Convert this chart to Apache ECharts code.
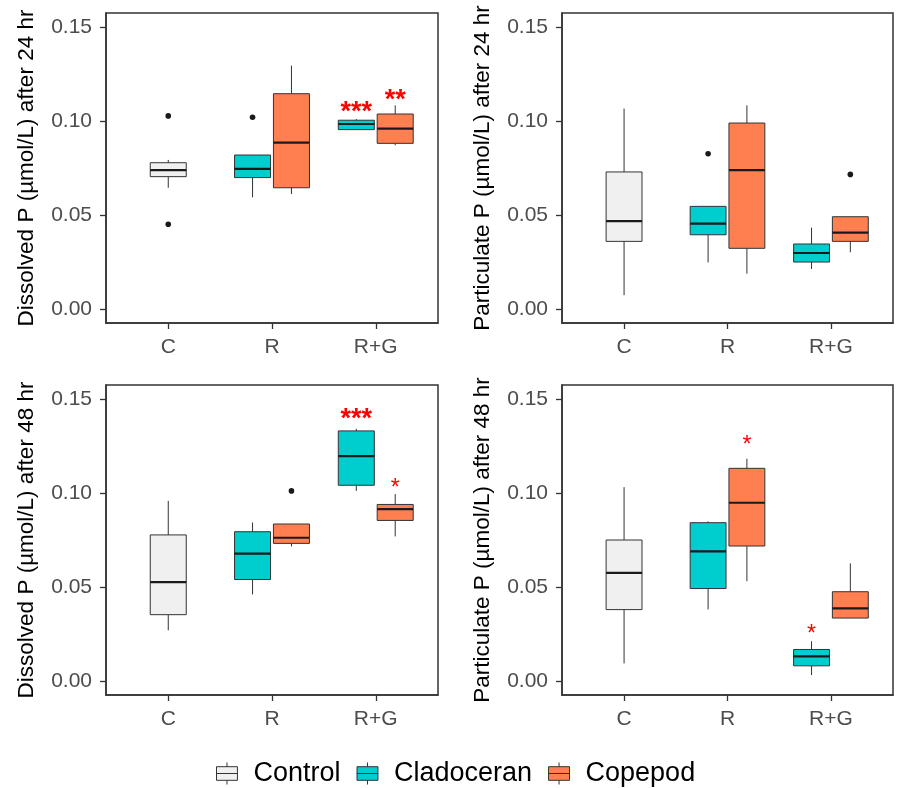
<!DOCTYPE html>
<html><head><meta charset="utf-8">
<script src="https://cdn.jsdelivr.net/npm/echarts@6/dist/echarts.min.js"></script>
<style>html,body{margin:0;padding:0;background:#fff}#c{width:897px;height:788px}</style>
</head><body><div id="c"></div><script>
const categories = ['C', 'R', 'R+G'];
const groups = ['Control', 'Cladoceran', 'Copepod'];
const yTicks = [0, 0.05, 0.10, 0.15];
const panelTitles = [
  'Dissolved P (µmol/L) after 24 hr',
  'Particulate P (µmol/L) after 24 hr',
  'Dissolved P (µmol/L) after 48 hr',
  'Particulate P (µmol/L) after 48 hr'
];

// boxes: [category, lower whisker, Q1, median, Q3, upper whisker]
// outliers: [category, value]; significance: [category, label value, text]
const d24Control = [['C', 0.0645, 0.0704, 0.0739, 0.0778, 0.0793]];
const d24Clado = [['R', 0.0594, 0.0699, 0.0745, 0.0819, 0.0819], ['R+G', 0.0954, 0.0954, 0.0984, 0.1004, 0.1010]];
const d24Cope = [['R', 0.0612, 0.0645, 0.0885, 0.1145, 0.1294], ['R+G', 0.0871, 0.0881, 0.0959, 0.1037, 0.1083]];
const d24ControlOut = [['C', 0.1027], ['C', 0.0451]];
const d24CladoOut = [['R', 0.1020]];
const d24CopeOut = [];
const d24CladoSig = [['R+G', 0.1076, '***']];
const d24CopeSig = [['R+G', 0.1138, '**']];

const p24Control = [['C', 0.0074, 0.0360, 0.0468, 0.0729, 0.1066]];
const p24Clado = [['R', 0.0248, 0.0395, 0.0454, 0.0546, 0.0546], ['R+G', 0.0213, 0.0250, 0.0298, 0.0346, 0.0433]];
const p24Cope = [['R', 0.0188, 0.0323, 0.0739, 0.0989, 0.1083], ['R+G', 0.0302, 0.0360, 0.0406, 0.0491, 0.0491]];
const p24ControlOut = [];
const p24CladoOut = [['R', 0.0826]];
const p24CopeOut = [['R+G', 0.0716]];

const d48Control = [['C', 0.0270, 0.0353, 0.0526, 0.0777, 0.0958]];
const d48Clado = [['R', 0.0461, 0.0540, 0.0678, 0.0794, 0.0843], ['R+G', 0.1011, 0.1041, 0.1196, 0.1330, 0.1341]];
const d48Cope = [['R', 0.0716, 0.0732, 0.0762, 0.0835, 0.0835], ['R+G', 0.0769, 0.0854, 0.0914, 0.0939, 0.0994]];
const d48ControlOut = [];
const d48CladoOut = [];
const d48CopeOut = [['R', 0.1011]];
const d48CladoSig = [['R+G', 0.1417, '***']];
const d48CopeSig = [['R+G', 0.1047, '*']];

const p48Control = [['C', 0.0094, 0.0380, 0.0575, 0.0750, 0.1031]];
const p48Clado = [['R', 0.0381, 0.0492, 0.0690, 0.0842, 0.0849], ['R+G', 0.0032, 0.0081, 0.0131, 0.0168, 0.0212]];
const p48Cope = [['R', 0.0531, 0.0718, 0.0948, 0.1131, 0.1182], ['R+G', 0.0335, 0.0335, 0.0386, 0.0475, 0.0626]];
const p48CladoSig = [['R+G', 0.0270, '*']];
const p48CopeSig = [['R', 0.1276, '*']];

const panels = [
  {boxes: [d24Control, d24Clado, d24Cope], outliers: [d24ControlOut, d24CladoOut, d24CopeOut], sig: [[], d24CladoSig, d24CopeSig]},
  {boxes: [p24Control, p24Clado, p24Cope], outliers: [p24ControlOut, p24CladoOut, p24CopeOut], sig: [[], [], []]},
  {boxes: [d48Control, d48Clado, d48Cope], outliers: [d48ControlOut, d48CladoOut, d48CopeOut], sig: [[], d48CladoSig, d48CopeSig]},
  {boxes: [p48Control, p48Clado, p48Cope], outliers: [[], [], []], sig: [[], p48CladoSig, p48CopeSig]}
];

// styling / layout
const fills = ['#F0F0F0', '#00CDCD', '#FF7F50'];
const dodge = [0, -0.1875, 0.1875];
const halfW = 0.1735;
const gridLefts = [106, 562, 106, 562];
const gridTops = [13, 13, 385, 385];
const gridWidths = [332, 331, 332, 331];
const FONT = 'Liberation Sans, Arial, sans-serif';

const grids = [], xAxes = [], yAxes = [], series = [];
panels.forEach((p, pi) => {
  grids.push({left: gridLefts[pi], top: gridTops[pi], width: gridWidths[pi], height: 310,
    show: true, borderColor: '#333', borderWidth: 1.5, backgroundColor: 'transparent'});
  xAxes.push({type: 'value', gridIndex: pi, min: 0.4, max: 3.6,
    axisLine: {show: true, onZero: false, lineStyle: {color: '#333', width: 1.5}},
    axisTick: {show: true, length: 6, customValues: [1, 2, 3], lineStyle: {color: '#333', width: 1.3}},
    axisLabel: {customValues: [1, 2, 3], formatter: v => categories[Math.round(v) - 1], color: '#4d4d4d', fontSize: 21, margin: 14, fontFamily: FONT},
    splitLine: {show: false}});
  yAxes.push({type: 'value', gridIndex: pi, min: -0.0074, max: 0.1574,
    name: panelTitles[pi], nameLocation: 'middle', nameGap: 68,
    nameTextStyle: {color: '#000', fontSize: 22.5, fontFamily: FONT},
    axisLine: {show: true, onZero: false, lineStyle: {color: '#333', width: 1.5}},
    axisTick: {show: true, length: 6, customValues: yTicks, lineStyle: {color: '#333', width: 1.3}},
    axisLabel: {customValues: yTicks, formatter: v => v.toFixed(2), color: '#4d4d4d', fontSize: 21, margin: 14, fontFamily: FONT},
    splitLine: {show: false}});
  groups.forEach((g, gi) => {
    const outs = p.outliers[gi];
    const sigs = p.sig[gi];
    series.push({
      type: 'custom', name: g, xAxisIndex: pi, yAxisIndex: pi,
      itemStyle: {color: fills[gi], borderColor: '#333', borderWidth: 1},
      encode: {x: 0, y: [1, 2, 3, 4, 5]},
      data: p.boxes[gi].map(b => [categories.indexOf(b[0]) + 1, b[1], b[2], b[3], b[4], b[5]]),
      renderItem: function (params, api) {
        const xi = api.value(0);
        const xc = xi + dodge[gi];
        const low = api.value(1), q1 = api.value(2), med = api.value(3), q3 = api.value(4), high = api.value(5);
        const tl = api.coord([xc - halfW, q3]);
        const br = api.coord([xc + halfW, q1]);
        const cHigh = api.coord([xc, high]), cQ3 = api.coord([xc, q3]);
        const cQ1 = api.coord([xc, q1]), cLow = api.coord([xc, low]);
        const cMedL = api.coord([xc - halfW, med]), cMedR = api.coord([xc + halfW, med]);
        const lineStyle = {stroke: '#333', lineWidth: 1};
        const children = [
          {type: 'line', shape: {x1: cHigh[0], y1: cHigh[1], x2: cQ3[0], y2: cQ3[1]}, style: lineStyle},
          {type: 'line', shape: {x1: cQ1[0], y1: cQ1[1], x2: cLow[0], y2: cLow[1]}, style: lineStyle},
          {type: 'rect', shape: {x: tl[0], y: tl[1], width: br[0] - tl[0], height: br[1] - tl[1]},
            style: {fill: api.visual('color'), stroke: '#333', lineWidth: 1}},
          {type: 'line', shape: {x1: cMedL[0], y1: cMedL[1], x2: cMedR[0], y2: cMedR[1]},
            style: {stroke: '#1a1a1a', lineWidth: 2.2}}
        ];
        const catName = categories[xi - 1];
        outs.filter(o => o[0] === catName).forEach(o => {
          const c = api.coord([xc, o[1]]);
          children.push({type: 'circle', shape: {cx: c[0], cy: c[1], r: 2.8}, style: {fill: '#1a1a1a'}});
        });
        sigs.filter(s => s[0] === catName).forEach(s => {
          const c = api.coord([xc, s[1]]);
          const fs = s[2].length > 1 ? 27 : 23;
          children.push({type: 'text', x: c[0], y: c[1] + 0.2 * fs,
            style: {text: s[2], fill: '#FF0000', fontSize: fs, fontWeight: s[2].length > 1 ? 'bold' : 'normal',
              fontFamily: FONT, align: 'center', verticalAlign: 'middle'}});
        });
        return {type: 'group', children: children};
      }
    });
  });
});

const chart = echarts.init(document.getElementById('c'));
chart.setOption({
  animation: false,
  backgroundColor: '#fff',
  textStyle: {fontFamily: FONT},
  grid: grids, xAxis: xAxes, yAxis: yAxes, series: series,
  legend: {
    data: groups, left: 216, top: 760, padding: 0, itemGap: 16,
    itemWidth: 21, itemHeight: 22,
    icon: 'path://M10,0 L10,4 M0,4 L20,4 L20,17 L0,17 Z M0,10.5 L20,10.5 M10,17 L10,21',
    itemStyle: {borderColor: '#333', borderWidth: 1},
    textStyle: {fontSize: 27, color: '#000', fontFamily: FONT, padding: [0, 0, 0, 11]}
  }
});
</script></body></html>
